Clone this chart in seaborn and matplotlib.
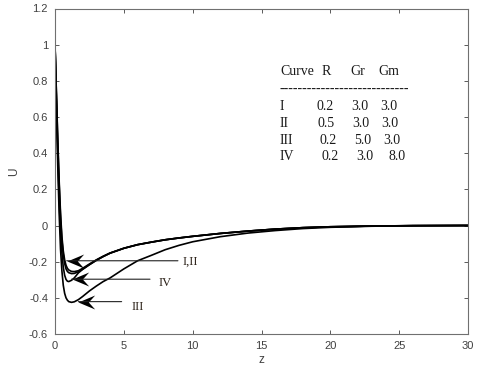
import matplotlib
matplotlib.use("Agg")
import matplotlib.pyplot as plt
from matplotlib.path import Path
import seaborn as sns
import pandas as pd

# ---- data ----
z_I = [0, 0.1, 0.2, 0.3, 0.4, 0.5, 0.6, 0.7, 0.8, 0.9, 1.0, 1.2, 1.4, 1.7, 2.0, 2.5, 3.0, 3.5,
       4.0, 5.0, 6.0, 7.0, 8.0, 9.0, 10, 12, 14, 16, 18, 20, 23, 26, 30]
U_I = [1.0, 0.74, 0.48, 0.25, 0.07, -0.06, -0.14, -0.19, -0.22, -0.237, -0.246, -0.254, -0.255,
       -0.25, -0.237, -0.213, -0.19, -0.17, -0.152, -0.126, -0.106, -0.092, -0.079, -0.069, -0.06,
       -0.044, -0.031, -0.02, -0.012, -0.007, -0.003, -0.001, 0.0]

z_II = z_I
U_II = [1.0, 0.73, 0.46, 0.23, 0.05, -0.08, -0.16, -0.21, -0.24, -0.254, -0.261, -0.266, -0.265,
        -0.256, -0.242, -0.216, -0.192, -0.171, -0.153, -0.126, -0.106, -0.092, -0.079, -0.069, -0.06,
        -0.044, -0.031, -0.02, -0.012, -0.007, -0.003, -0.001, 0.0]

z_IV = z_I
U_IV = [1.0, 0.7, 0.4, 0.15, -0.03, -0.15, -0.23, -0.275, -0.298, -0.308, -0.31, -0.303, -0.29,
        -0.262, -0.243, -0.217, -0.193, -0.172, -0.153, -0.126, -0.106, -0.092, -0.079, -0.069, -0.06,
        -0.044, -0.031, -0.02, -0.012, -0.007, -0.003, -0.001, 0.0]

z_III = z_I
U_III = [1.0, 0.65, 0.33, 0.07, -0.13, -0.25, -0.33, -0.375, -0.40, -0.413, -0.421, -0.425, -0.422,
         -0.41, -0.393, -0.362, -0.335, -0.31, -0.29, -0.24, -0.195, -0.165, -0.134, -0.11, -0.09,
         -0.062, -0.042, -0.028, -0.017, -0.01, -0.004, -0.001, 0.0]

curve_names = ["I", "II", "III", "IV"]
R_vals = ["0.2", "0.5", "0.2", "0.2"]
Gr_vals = ["3.0", "3.0", "5.0", "3.0"]
Gm_vals = ["3.0", "3.0", "3.0", "8.0"]

x_ticks = [0, 5, 10, 15, 20, 25, 30]
y_ticks = [-0.6, -0.4, -0.2, 0, 0.2, 0.4, 0.6, 0.8, 1.0, 1.2]
y_tick_labels = ["-0.6", "-0.4", "-0.2", "0", "0.2", "0.4", "0.6", "0.8", "1", "1.2"]

# ---- build long table ----
frames = []
for name, zz, uu in [("I", z_I, U_I), ("II", z_II, U_II), ("III", z_III, U_III), ("IV", z_IV, U_IV)]:
    frames.append(pd.DataFrame({"z": zz, "U": uu, "curve": name}))
df = pd.concat(frames, ignore_index=True)

sns.set_style("ticks")
plt.rcParams["font.family"] = ["Liberation Sans", "DejaVu Sans"]

fig = plt.figure(figsize=(4.8, 3.75), dpi=100)
ax = fig.add_axes([55 / 480, (375 - 334) / 375, (468 - 55) / 480, (334 - 8.5) / 375])

sns.lineplot(data=df, x="z", y="U", units="curve", estimator=None, color="black",
             lw=1.2, sort=False, ax=ax, legend=False)

ax.set_xlim(0, 30)
ax.set_ylim(-0.6, 1.2)
ax.set_xticks(x_ticks)
ax.set_xticklabels([str(t) for t in x_ticks])
ax.set_yticks(y_ticks)
ax.set_yticklabels(y_tick_labels)
ax.tick_params(direction="in", top=True, right=True, length=3, width=0.6,
               labelsize=8, colors="#404040", pad=5)
for s in ax.spines.values():
    s.set_color("#707070")
    s.set_linewidth(0.8)
ax.set_xlabel("z", fontsize=8.5, color="#404040", labelpad=2)
ax.set_ylabel("U", fontsize=8.5, color="#404040", labelpad=6)

# ---- table ----
serif = ["Liberation Serif", "DejaVu Serif"]
tc = "#1a1a1a"
fs = 10
ax.text(16.34, 0.852, "Curve", family=serif, fontsize=fs, color=tc, va="center", ha="left")
ax.text(19.37, 0.852, "R", family=serif, fontsize=fs, color=tc, va="center", ha="left")
ax.text(21.42, 0.852, "Gr", family=serif, fontsize=fs, color=tc, va="center", ha="left")
ax.text(23.48, 0.852, "Gm", family=serif, fontsize=fs, color=tc, va="center", ha="left")
ax.text(16.34, 0.752, "-" * 28, family=serif, fontsize=fs, color=tc, va="center", ha="left")
row_y = [0.657, 0.562, 0.468, 0.379]
col_R = [19.0, 19.1, 19.24, 19.37]
col_Gr = [21.55, 21.6, 21.7, 21.9]
col_Gm = [23.6, 23.7, 23.84, 24.2]
for i in range(4):
    ax.text(16.34, row_y[i], curve_names[i], family=serif, fontsize=fs, color=tc, va="center", ha="left")
    ax.text(col_R[i], row_y[i], R_vals[i], family=serif, fontsize=fs, color=tc, va="center", ha="left")
    ax.text(col_Gr[i], row_y[i], Gr_vals[i], family=serif, fontsize=fs, color=tc, va="center", ha="left")
    ax.text(col_Gm[i], row_y[i], Gm_vals[i], family=serif, fontsize=fs, color=tc, va="center", ha="left")

# ---- arrows (stealth heads) and labels ----
stealth = Path([(0, 0), (1, 0.42), (0.62, 0), (1, -0.42), (0, 0)],
               [Path.MOVETO, Path.LINETO, Path.LINETO, Path.LINETO, Path.CLOSEPOLY])
arrows = [((0.85, -0.195), (8.93, -0.195)),
          ((1.2, -0.297), (6.9, -0.297)),
          ((1.7, -0.421), (4.84, -0.421))]
for tip, tail in arrows:
    ax.annotate("", xy=tip, xytext=tail,
                arrowprops=dict(arrowstyle="-", color="#222222", lw=0.8, shrinkA=0, shrinkB=0))
    ax.plot([tip[0]], [tip[1]], marker=stealth, markersize=24, color="black",
            markeredgewidth=0, linestyle="none")
ax.text(9.3, -0.202, "I,II", family=serif, fontsize=9, color="#2b2118", va="center", ha="left")
ax.text(7.5, -0.319, "IV", family=serif, fontsize=9, color="#2b2118", va="center", ha="left")
ax.text(5.57, -0.449, "III", family=serif, fontsize=9, color="#2b2118", va="center", ha="left")

fig.savefig("out.png", dpi=100)
